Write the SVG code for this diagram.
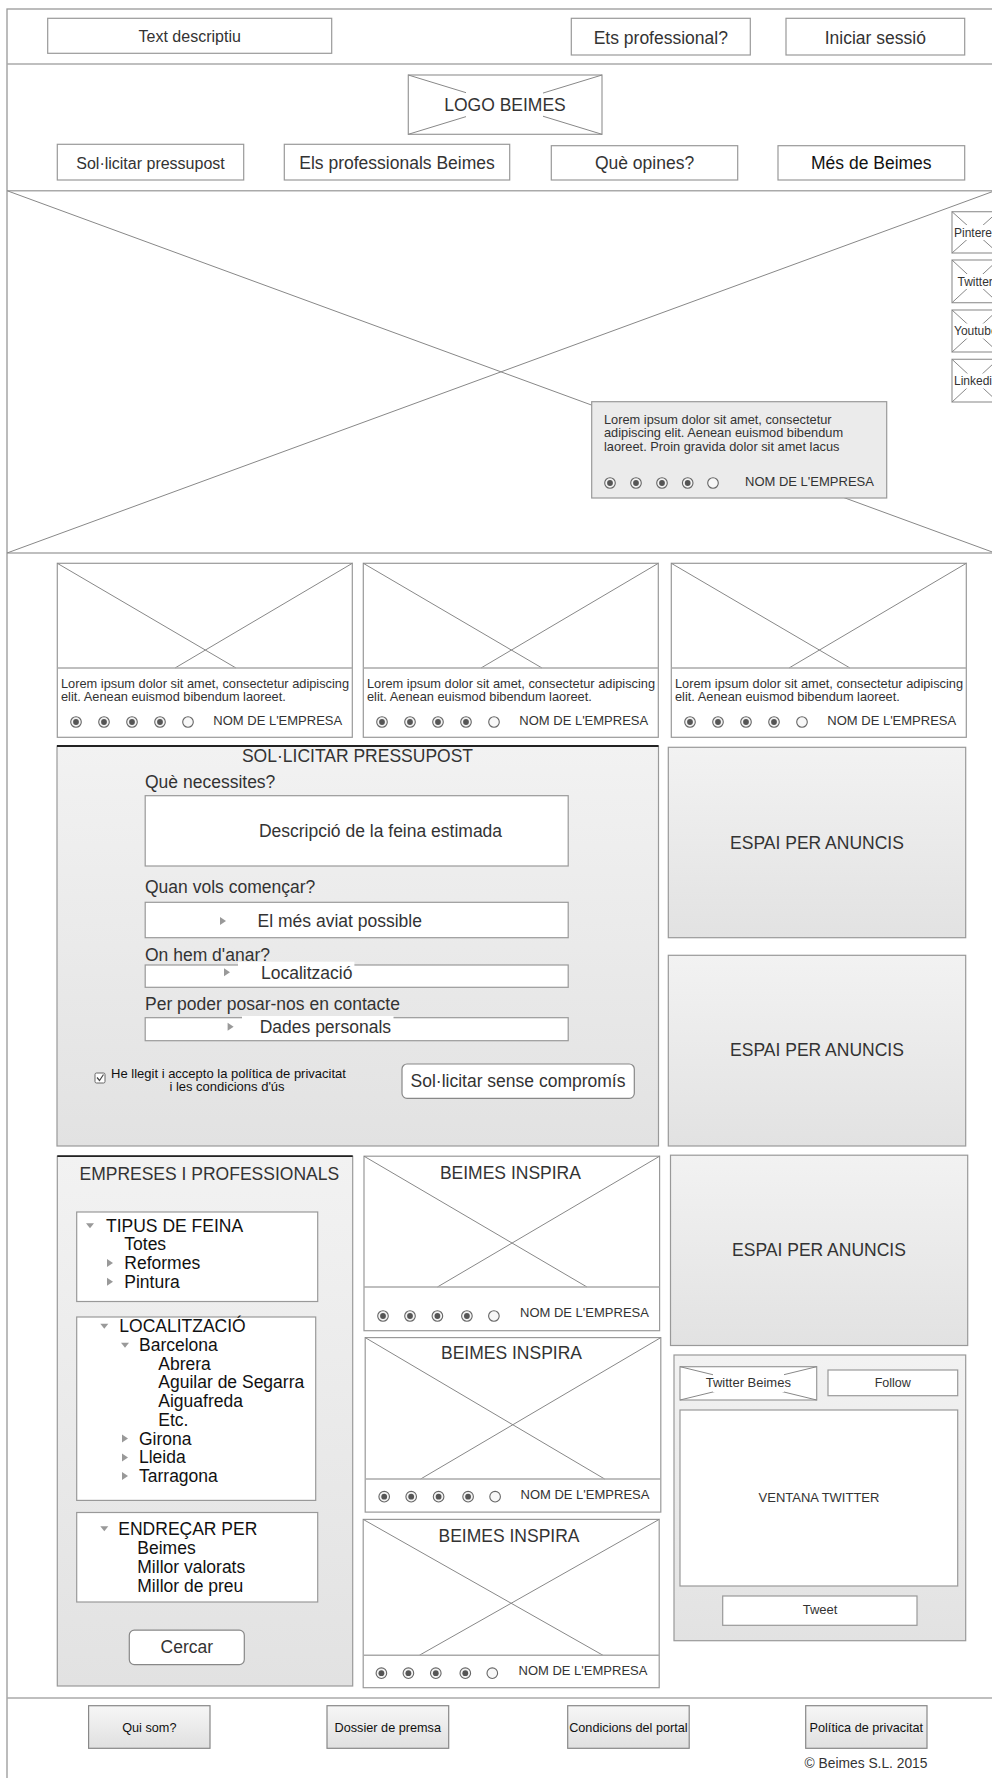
<svg xmlns="http://www.w3.org/2000/svg" width="992" height="1778" viewBox="0 0 992 1778">
<defs>
<linearGradient id="g" x1="0" y1="0" x2="0" y2="1"><stop offset="0" stop-color="#f2f2f2"/><stop offset="1" stop-color="#e2e2e2"/></linearGradient>
<linearGradient id="gb" x1="0" y1="0" x2="0" y2="1"><stop offset="0" stop-color="#f6f6f6"/><stop offset="1" stop-color="#e0e0e0"/></linearGradient>
<g id="rf"><circle r="5.3" fill="#f4f4f4" stroke="#666" stroke-width="1.1"/><circle r="2.9" fill="#555"/></g>
<g id="re"><circle r="5.3" fill="#f8f8f8" stroke="#666" stroke-width="1.1"/></g>
<polygon id="tr" points="-3,-4 3,0 -3,4" fill="#999"/>
<polygon id="td" points="-4,-2.5 4,-2.5 0,2.5" fill="#999"/>
</defs>
<style>
.b{fill:#fff;stroke:#999;stroke-width:1.2}
.gr{fill:url(#g);stroke:#999;stroke-width:1.2}
.fb{fill:url(#gb);stroke:#888;stroke-width:1.2}
.x{stroke:#888;stroke-width:1;fill:none}
.sep{stroke:#aaa;stroke-width:1.5}
text{font-family:"Liberation Sans",Arial,Helvetica,sans-serif;fill:#333}
.s12{font-size:12px}.s125{font-size:12.5px}.s127{font-size:12.7px}.s128{font-size:12.8px}.s13{font-size:13px}.s138{font-size:13.8px}.s16{font-size:16px}.s175{font-size:17.5px}
.k{fill:#111}
.m{text-anchor:middle}
</style>
<rect x="0" y="0" width="992" height="1778" fill="#fff"/>
<rect x="7" y="9" width="1000" height="1800" fill="#fff" stroke="#999" stroke-width="1.3"/>

<g id="separators">
<line class="sep" x1="7" y1="64" x2="992" y2="64"/>
<line class="sep" x1="7" y1="190.7" x2="992" y2="190.7"/>
<line class="sep" x1="7" y1="553" x2="992" y2="553"/>
<line class="sep" x1="7" y1="1698" x2="992" y2="1698"/>
</g>

<g id="header">
<g id="text-descriptiu"><rect class="b" x="47.7" y="18.3" width="284" height="35"/><text class="s16 m" x="189.7" y="42.4">Text descriptiu</text></g>
<g id="ets-professional"><rect class="b" x="571.3" y="18.3" width="179" height="36.7"/><text class="s175 m" x="660.8" y="43.6">Ets professional?</text></g>
<g id="iniciar-sessio"><rect class="b" x="786" y="18.3" width="178.7" height="36.7"/><text class="s175 m" x="875.3" y="43.6">Iniciar sessió</text></g>
</g>

<g id="logo">
<rect class="b" x="408.3" y="75" width="193.7" height="59.3"/>
<line class="x" x1="408.3" y1="75" x2="602" y2="134.3"/>
<line class="x" x1="408.3" y1="134.3" x2="602" y2="75"/>
<rect x="466" y="92" width="77" height="26" fill="#fff"/>
<text class="s175 m" x="505" y="110.6">LOGO BEIMES</text>
</g>

<g id="nav">
<g id="nav1"><rect class="b" x="57.3" y="144.3" width="186.4" height="35.7"/><text class="s16 m" x="150.5" y="168.7">Sol·licitar pressupost</text></g>
<g id="nav2"><rect class="b" x="284.3" y="144.3" width="225.4" height="35.7"/><text class="s175 m" x="397" y="169">Els professionals Beimes</text></g>
<g id="nav3"><rect class="b" x="551.3" y="145.7" width="186.4" height="34.3"/><text class="s175 m" x="644.5" y="169">Què opines?</text></g>
<g id="nav4"><rect class="b" x="778" y="145.7" width="186.7" height="34.3"/><text class="s175 m k" x="871.3" y="169">Més de Beimes</text></g>
</g>

<g id="hero">
<line class="x" x1="7" y1="190.7" x2="995" y2="553"/>
<line class="x" x1="7" y1="553" x2="995" y2="190.7"/>
<g id="social">
<g id="pinterest"><rect class="b" x="952" y="211.7" width="46" height="41.3"/><line class="x" x1="952" y1="211.7" x2="998" y2="253"/><line class="x" x1="952" y1="253" x2="998" y2="211.7"/><rect x="953" y="225" width="44" height="15" fill="#fff"/><text class="s12" x="954" y="236.5">Pinterest</text></g>
<g id="twitter"><rect class="b" x="952" y="260" width="46" height="42.7"/><line class="x" x1="952" y1="260" x2="998" y2="302.7"/><line class="x" x1="952" y1="302.7" x2="998" y2="260"/><rect x="953" y="274" width="44" height="15" fill="#fff"/><text class="s12" x="957.5" y="285.5">Twitter</text></g>
<g id="youtube"><rect class="b" x="952" y="310" width="46" height="42"/><line class="x" x1="952" y1="310" x2="998" y2="352"/><line class="x" x1="952" y1="352" x2="998" y2="310"/><rect x="953" y="323.5" width="44" height="15" fill="#fff"/><text class="s12" x="954" y="335">Youtube</text></g>
<g id="linkedin"><rect class="b" x="952" y="359.3" width="46" height="42.7"/><line class="x" x1="952" y1="359.3" x2="998" y2="402"/><line class="x" x1="952" y1="402" x2="998" y2="359.3"/><rect x="953" y="373.5" width="44" height="15" fill="#fff"/><text class="s12" x="954" y="385">Linkedin</text></g>
</g>
<g id="testimonial">
<rect x="591.7" y="401.7" width="295" height="96.3" fill="#ebebeb" stroke="#999" stroke-width="1.2"/>
<text class="s128" x="604" y="423.6">Lorem ipsum dolor sit amet, consectetur</text>
<text class="s128" x="604" y="437.3">adipiscing elit. Aenean euismod bibendum</text>
<text class="s128" x="604" y="451.3">laoreet. Proin gravida dolor sit amet lacus</text>
<use href="#rf" x="610" y="483"/><use href="#rf" x="636" y="483"/><use href="#rf" x="662" y="483"/><use href="#rf" x="687.7" y="483"/><use href="#re" x="713" y="483"/>
<text class="s13" x="745" y="486.4">NOM DE L'EMPRESA</text>
</g>
</g>

<g id="card1">
<rect class="b" x="57.3" y="563.3" width="295" height="174"/>
<line class="x" x1="57.3" y1="563.3" x2="236" y2="668"/><line class="x" x1="352.3" y1="563.3" x2="175" y2="668"/>
<line class="sep" x1="57.3" y1="668" x2="352.3" y2="668" stroke-width="1.2"/>
<text class="s128" x="61" y="687.9">Lorem ipsum dolor sit amet, consectetur adipiscing</text>
<text class="s128" x="61" y="701.3">elit. Aenean euismod bibendum laoreet.</text>
<use href="#rf" x="76" y="722"/><use href="#rf" x="104" y="722"/><use href="#rf" x="132" y="722"/><use href="#rf" x="160" y="722"/><use href="#re" x="188" y="722"/>
<text class="s13" x="213.3" y="724.7">NOM DE L'EMPRESA</text>
</g>
<g id="card2" transform="translate(306,0)">
<rect class="b" x="57.3" y="563.3" width="295" height="174"/>
<line class="x" x1="57.3" y1="563.3" x2="236" y2="668"/><line class="x" x1="352.3" y1="563.3" x2="175" y2="668"/>
<line class="sep" x1="57.3" y1="668" x2="352.3" y2="668" stroke-width="1.2"/>
<text class="s128" x="61" y="687.9">Lorem ipsum dolor sit amet, consectetur adipiscing</text>
<text class="s128" x="61" y="701.3">elit. Aenean euismod bibendum laoreet.</text>
<use href="#rf" x="76" y="722"/><use href="#rf" x="104" y="722"/><use href="#rf" x="132" y="722"/><use href="#rf" x="160" y="722"/><use href="#re" x="188" y="722"/>
<text class="s13" x="213.3" y="724.7">NOM DE L'EMPRESA</text>
</g>
<g id="card3" transform="translate(614,0)">
<rect class="b" x="57.3" y="563.3" width="295" height="174"/>
<line class="x" x1="57.3" y1="563.3" x2="236" y2="668"/><line class="x" x1="352.3" y1="563.3" x2="175" y2="668"/>
<line class="sep" x1="57.3" y1="668" x2="352.3" y2="668" stroke-width="1.2"/>
<text class="s128" x="61" y="687.9">Lorem ipsum dolor sit amet, consectetur adipiscing</text>
<text class="s128" x="61" y="701.3">elit. Aenean euismod bibendum laoreet.</text>
<use href="#rf" x="76" y="722"/><use href="#rf" x="104" y="722"/><use href="#rf" x="132" y="722"/><use href="#rf" x="160" y="722"/><use href="#re" x="188" y="722"/>
<text class="s13" x="213.3" y="724.7">NOM DE L'EMPRESA</text>
</g>

<g id="form">
<rect class="gr" x="57" y="746" width="601.5" height="400"/>
<line x1="57" y1="746" x2="658.5" y2="746" stroke="#222" stroke-width="1.8"/>
<text class="s175 m" x="357.5" y="762.3">SOL·LICITAR PRESSUPOST</text>
<text class="s175" x="145" y="788">Què necessites?</text>
<rect class="b" x="145.2" y="795.7" width="423" height="70.3"/>
<text class="s175 m" x="380.5" y="837.3">Descripció de la feina estimada</text>
<text class="s175" x="145" y="893">Quan vols començar?</text>
<rect class="b" x="145.2" y="902.3" width="423" height="35.4"/>
<use href="#tr" x="223" y="921"/>
<text class="s175" x="257.6" y="927.3">El més aviat possible</text>
<text class="s175" x="145" y="960.6">On hem d'anar?</text>
<rect class="b" x="145.2" y="965" width="423" height="22.3"/>
<rect x="238" y="961.7" width="116.4" height="24" fill="#fff"/>
<use href="#tr" x="227" y="972.3"/>
<text class="s175" x="261" y="978.6">Localització</text>
<text class="s175" x="145" y="1009.6">Per poder posar-nos en contacte</text>
<rect class="b" x="145.2" y="1017.7" width="423" height="23"/>
<rect x="242" y="1016" width="151.5" height="24" fill="#fff"/>
<use href="#tr" x="230.6" y="1026.7"/>
<text class="s175" x="259.7" y="1033">Dades personals</text>
<rect x="95" y="1073" width="10" height="10" rx="1.5" fill="#fff" stroke="#666" stroke-width="1"/>
<polyline points="97,1077.5 99.5,1080.5 103.5,1074.5" fill="none" stroke="#444" stroke-width="1.2"/>
<text class="s13 m k" x="228.5" y="1077.8">He llegit i accepto la política de privacitat</text>
<text class="s13 m k" x="227" y="1091.3">i les condicions d'ús</text>
<rect x="402" y="1064" width="232.3" height="34.3" rx="5" fill="#fff" stroke="#888" stroke-width="1.2"/>
<text class="s175 m" x="518" y="1087.3">Sol·licitar sense compromís</text>
</g>

<g id="ad1"><rect class="gr" x="668.3" y="747.3" width="297.4" height="190.4"/><text class="s175 m" x="817" y="849">ESPAI PER ANUNCIS</text></g>
<g id="ad2"><rect class="gr" x="668.3" y="955.3" width="297.4" height="190.7"/><text class="s175 m" x="817" y="1056.3">ESPAI PER ANUNCIS</text></g>

<g id="empreses">
<rect class="gr" x="57.3" y="1156.2" width="295.4" height="529.8"/>
<line x1="57.3" y1="1156.2" x2="352.7" y2="1156.2" stroke="#222" stroke-width="1.8"/>
<text class="s175 m" x="209.3" y="1180.2">EMPRESES I PROFESSIONALS</text>
<g id="tipus">
<rect class="b" x="76.7" y="1212" width="241" height="89.5"/>
<use href="#td" x="90" y="1225.7"/>
<text class="s175 k" x="106" y="1231.7">TIPUS DE FEINA</text>
<text class="s175 k" x="124.3" y="1250">Totes</text>
<use href="#tr" x="110" y="1262.9"/>
<text class="s175 k" x="124.3" y="1268.9">Reformes</text>
<use href="#tr" x="110" y="1281.8"/>
<text class="s175 k" x="124.3" y="1287.8">Pintura</text>
</g>
<g id="localitzacio">
<rect class="b" x="76.7" y="1317" width="239" height="183.4"/>
<use href="#td" x="104.3" y="1326.2"/>
<text class="s175 k" x="119.3" y="1332.2">LOCALITZACIÓ</text>
<use href="#td" x="125" y="1345.2"/>
<text class="s175 k" x="139" y="1351.2">Barcelona</text>
<text class="s175 k" x="158.3" y="1370.1">Abrera</text>
<text class="s175 k" x="158.3" y="1388.4">Aguilar de Segarra</text>
<text class="s175 k" x="158.3" y="1407.3">Aiguafreda</text>
<text class="s175 k" x="158.3" y="1426.2">Etc.</text>
<use href="#tr" x="125" y="1438.5"/>
<text class="s175 k" x="139" y="1444.5">Girona</text>
<use href="#tr" x="125" y="1457.4"/>
<text class="s175 k" x="139" y="1463.4">Lleida</text>
<use href="#tr" x="125" y="1476"/>
<text class="s175 k" x="139" y="1482">Tarragona</text>
</g>
<g id="endrecar">
<rect class="b" x="76.7" y="1512.5" width="241" height="89.5"/>
<use href="#td" x="104.3" y="1528.7"/>
<text class="s175 k" x="118.3" y="1534.7">ENDREÇAR PER</text>
<text class="s175 k" x="137.3" y="1553.6">Beimes</text>
<text class="s175 k" x="137.3" y="1572.5">Millor valorats</text>
<text class="s175 k" x="137.3" y="1591.5">Millor de preu</text>
</g>
<rect x="129.3" y="1630.2" width="115" height="34.4" rx="5" fill="#fff" stroke="#888" stroke-width="1.2"/>
<text class="s175 m" x="186.8" y="1653.4">Cercar</text>
</g>

<g id="inspira1">
<rect class="b" x="364" y="1156.2" width="295.6" height="174.5"/>
<line class="x" x1="364" y1="1156.2" x2="587" y2="1287"/><line class="x" x1="659.6" y1="1156.2" x2="437.4" y2="1287"/>
<line class="sep" x1="364" y1="1287" x2="659.6" y2="1287" stroke-width="1.2"/>
<text class="s175 m" x="510.4" y="1178.7">BEIMES INSPIRA</text>
<use href="#rf" x="383" y="1316"/><use href="#rf" x="410" y="1316"/><use href="#rf" x="437.4" y="1316"/><use href="#rf" x="466.9" y="1316"/><use href="#re" x="493.9" y="1316"/>
<text class="s13" x="520" y="1317.2">NOM DE L'EMPRESA</text>
</g>
<g id="inspira2">
<rect class="b" x="365.2" y="1337.6" width="295.6" height="174.5"/>
<line class="x" x1="365.2" y1="1337.6" x2="604.8" y2="1479.1"/><line class="x" x1="660.8" y1="1337.6" x2="420.5" y2="1479.1"/>
<line class="sep" x1="365.2" y1="1479.1" x2="660.8" y2="1479.1" stroke-width="1.2"/>
<text class="s175 m" x="511.5" y="1359.4">BEIMES INSPIRA</text>
<use href="#rf" x="384.2" y="1496.7"/><use href="#rf" x="411.2" y="1496.7"/><use href="#rf" x="438.6" y="1496.7"/><use href="#rf" x="468.1" y="1496.7"/><use href="#re" x="495.1" y="1496.7"/>
<text class="s13" x="520.5" y="1498.9">NOM DE L'EMPRESA</text>
</g>
<g id="inspira3">
<rect class="b" x="363.2" y="1519.4" width="296" height="168.3"/>
<line class="x" x1="363.2" y1="1519.4" x2="603" y2="1655.3"/><line class="x" x1="659.2" y1="1519.4" x2="419.3" y2="1655.3"/>
<line class="sep" x1="363.2" y1="1655.3" x2="659.2" y2="1655.3" stroke-width="1.2"/>
<text class="s175 m" x="509" y="1541.9">BEIMES INSPIRA</text>
<use href="#rf" x="381.4" y="1673.2"/><use href="#rf" x="408.4" y="1673.2"/><use href="#rf" x="435.8" y="1673.2"/><use href="#rf" x="465.3" y="1673.2"/><use href="#re" x="492.3" y="1673.2"/>
<text class="s13" x="518.5" y="1675.2">NOM DE L'EMPRESA</text>
</g>

<g id="ad3"><rect class="gr" x="670.5" y="1155.2" width="297.2" height="190.3"/><text class="s175 m" x="819" y="1256.1">ESPAI PER ANUNCIS</text></g>

<g id="twitter-panel">
<rect class="gr" x="674" y="1355" width="291.7" height="285.7"/>
<rect class="b" x="680" y="1366.7" width="136.7" height="33.3"/>
<line class="x" x1="680" y1="1366.7" x2="816.7" y2="1400"/><line class="x" x1="680" y1="1400" x2="816.7" y2="1366.7"/>
<rect x="713" y="1374" width="71" height="18" fill="#fff"/>
<text class="s13 m" x="748.3" y="1387.4">Twitter Beimes</text>
<rect class="b" x="828" y="1370" width="129.7" height="25.7"/>
<text class="s125 m" x="892.7" y="1387.2">Follow</text>
<rect class="b" x="680" y="1410" width="277.7" height="176"/>
<text class="s13 m" x="819" y="1502">VENTANA TWITTER</text>
<rect class="b" x="722.7" y="1596" width="194.3" height="29.3"/>
<text class="s13 m" x="820" y="1614">Tweet</text>
</g>

<g id="footer">
<g id="qui-som"><rect class="fb" x="88.6" y="1705.7" width="121.4" height="42.6"/><text class="s127 m k" x="149.3" y="1731.8">Qui som?</text></g>
<g id="dossier"><rect class="fb" x="327" y="1705.7" width="121.7" height="42.6"/><text class="s127 m k" x="387.8" y="1731.8">Dossier de premsa</text></g>
<g id="condicions"><rect class="fb" x="567.7" y="1705.7" width="121.5" height="42.6"/><text class="s127 m k" x="628.4" y="1731.8">Condicions del portal</text></g>
<g id="politica"><rect class="fb" x="805.7" y="1705.7" width="121.3" height="42.6"/><text class="s127 m k" x="866.3" y="1731.8">Política de privacitat</text></g>
<text class="s138 m" x="866" y="1768.3">© Beimes S.L. 2015</text>
</g>
</svg>
